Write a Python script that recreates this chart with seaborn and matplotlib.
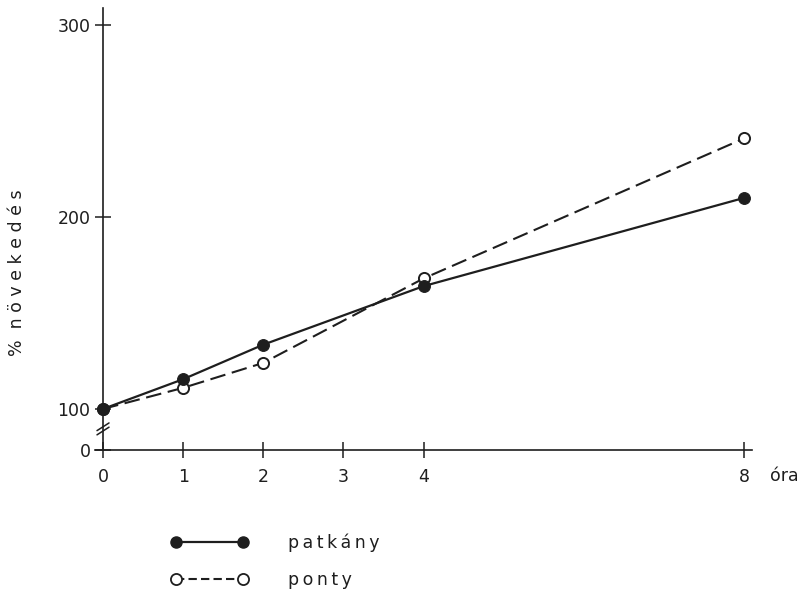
import numpy as np
import pandas as pd
import matplotlib
matplotlib.use("Agg")
import matplotlib.pyplot as plt
from matplotlib.lines import Line2D
import seaborn as sns

# Hours of incubation and percentage growth for each species
hours = [0, 1, 2, 4, 8]
patkany = [100, 115.5, 133.5, 164, 210]
ponty = [100, 111, 124, 168, 241]
x_ticks = [0, 1, 2, 3, 4, 8]
y_tick_labels = ["0", "100", "200", "300"]

# Broken axis: the "0" tick sits just below 100
y_zero_pos = 78.6
y_ticks = [y_zero_pos, 100, 200, 300]

sns.set_theme(style="white")
plt.rcParams["font.family"] = ["DejaVu Sans"]

ink = "#1e1e1e"
fs = 12.5

fig = plt.figure(figsize=(8.03, 5.92), dpi=100)
ax = fig.add_axes([95 / 803, 1 - 450 / 592, (752 - 95) / 803, (450 - 8) / 592])

df = pd.DataFrame({
    "óra": hours * 2,
    "növekedés": patkany + ponty,
    "faj": ["patkány"] * len(hours) + ["ponty"] * len(hours),
})

sns.lineplot(data=df[df["faj"] == "ponty"], x="óra", y="növekedés", ax=ax,
             color=ink, lw=1.5, marker="o", markersize=8, markerfacecolor="white",
             markeredgecolor=ink, markeredgewidth=1.4, linestyle=(0, (7.5, 3.2)),
             clip_on=False, zorder=3)
sns.lineplot(data=df[df["faj"] == "patkány"], x="óra", y="növekedés", ax=ax,
             color=ink, lw=1.6, marker="o", markersize=8.5, markerfacecolor=ink,
             markeredgecolor=ink, clip_on=False, zorder=4)

ax.set_xlim(-0.1, 8.1)
ax.set_ylim(y_zero_pos, 309)
ax.set_xticks(x_ticks)
ax.set_xticklabels([str(t) for t in x_ticks])
ax.set_yticks(y_ticks)
ax.set_yticklabels(y_tick_labels)
ax.set_xlabel("")
ax.set_ylabel("")

for side in ["top", "right"]:
    ax.spines[side].set_visible(False)
for side in ["left", "bottom"]:
    ax.spines[side].set_color(ink)
    ax.spines[side].set_linewidth(1.2)
ax.spines["left"].set_position(("data", 0))

ax.tick_params(axis="both", which="major", direction="inout", length=12,
               width=1.1, color=ink, labelsize=fs, labelcolor=ink,
               bottom=True, left=True)
ax.tick_params(axis="x", pad=7)
ax.tick_params(axis="y", pad=3)

# Axis break marks on the y axis
for dy in (0, 2.2):
    ax.plot([-0.075, 0.075], [86.5 + dy, 90.5 + dy], color=ink, lw=1.1,
            clip_on=False, zorder=5)

# Unit label after the last x tick
fig.text(770 / 803, 1 - 481 / 592, "óra", fontsize=fs, color=ink,
         ha="left", va="baseline")

# Rotated, letter-spaced y label
fig.text(17 / 803, 1 - 273 / 592, "%  n ö v e k e d é s", fontsize=fs,
         color=ink, rotation=90, ha="center", va="center")

thin = "\u2009"
handles = [
    Line2D([], [], color=ink, lw=1.6, marker="o", markersize=8,
           markerfacecolor=ink, markeredgecolor=ink),
    Line2D([], [], color=ink, lw=1.5, marker="o", markersize=8,
           markerfacecolor="white", markeredgecolor=ink, markeredgewidth=1.3,
           linestyle=(0, (4, 2))),
]
labels = [thin.join("patkány"), thin.join("ponty")]
fig.legend(handles, labels, loc="upper left",
           bbox_to_anchor=(164 / 803, 1 - 527 / 592), frameon=False,
           numpoints=2, handlelength=4.45, handletextpad=2.3,
           labelspacing=1.05, borderaxespad=0, fontsize=fs,
           labelcolor=ink)

fig.savefig("out.png", dpi=100, facecolor="white")
